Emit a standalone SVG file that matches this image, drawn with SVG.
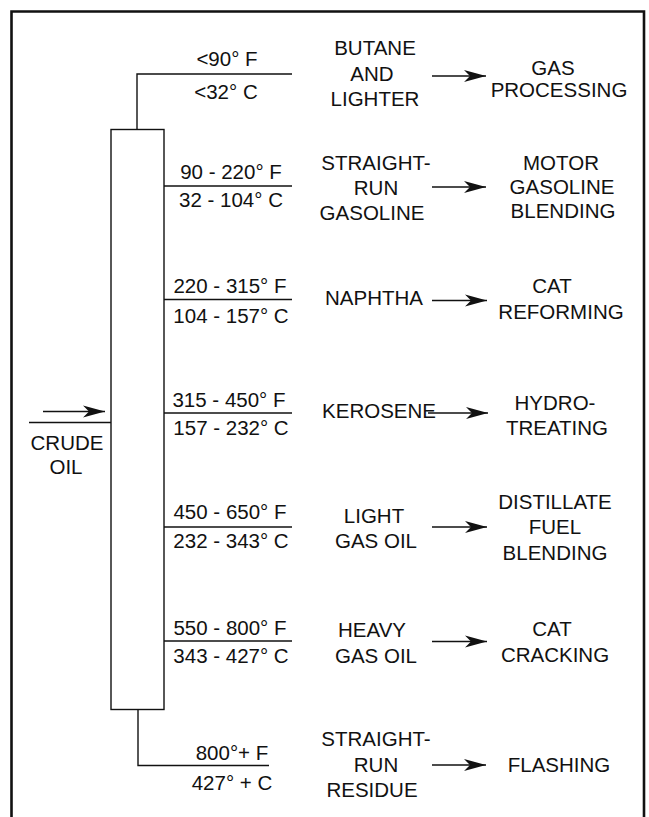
<svg xmlns="http://www.w3.org/2000/svg" width="649" height="817" viewBox="0 0 649 817">
<style>
text{font-family:"Liberation Sans",Arial,Helvetica,sans-serif;font-size:20.5px;fill:#111;text-anchor:middle}
.ln{fill:none;stroke:#111;stroke-width:1.4}
.ar{fill:none;stroke:#111;stroke-width:1.4;marker-end:url(#ah)}
</style>
<defs>
<marker id="ah" markerUnits="userSpaceOnUse" markerWidth="24" markerHeight="14" viewBox="-22 -7 24 14" refX="0" refY="0" orient="auto">
<path d="M0,0 L-22,-6 L-16,0 L-22,6 Z" fill="#111"/>
</marker>
</defs>
<rect width="649" height="817" fill="#fff"/>
<path d="M11.5,817 V11.5 H644 V817" fill="none" stroke="#111" stroke-width="2.6"/>
<g id="column"><rect x="111" y="129.5" width="53" height="580" class="ln" fill="#fff"/></g>
<g id="connectors">
<path class="ln" d="M137,129.5 V74 H292"/>
<path class="ln" d="M164,186 H292"/>
<path class="ln" d="M164,299.5 H292"/>
<path class="ln" d="M164,413 H292"/>
<path class="ln" d="M164,527 H292"/>
<path class="ln" d="M164,641 H292"/>
<path class="ln" d="M138,709.5 V765.5 H269"/>
<path class="ln" d="M29,422.5 H111"/>
<path class="ar" d="M43,411.5 H105"/>
<path class="ar" d="M432,76 H486"/>
<path class="ar" d="M432,187 H486"/>
<path class="ar" d="M432,300.5 H487"/>
<path class="ar" d="M428,413 H488"/>
<path class="ar" d="M432,527 H487"/>
<path class="ar" d="M432,641.5 H487"/>
<path class="ar" d="M432,765 H486"/>
</g>
<g id="crude"><text x="67" y="450">CRUDE</text><text x="66" y="474">OIL</text></g>
<g id="t1"><text x="227" y="66">&lt;90° F</text><text x="226" y="99">&lt;32° C</text></g>
<g id="t2"><text x="231" y="179">90 - 220° F</text><text x="231" y="207">32 - 104° C</text></g>
<g id="t3"><text x="230" y="293">220 - 315° F</text><text x="231" y="323">104 - 157° C</text></g>
<g id="t4"><text x="229" y="407">315 - 450° F</text><text x="231" y="435">157 - 232° C</text></g>
<g id="t5"><text x="230" y="519">450 - 650° F</text><text x="231" y="548">232 - 343° C</text></g>
<g id="t6"><text x="230" y="635">550 - 800° F</text><text x="231" y="663">343 - 427° C</text></g>
<g id="t7"><text x="232" y="760">800°+ F</text><text x="232" y="790">427° + C</text></g>
<g id="p1"><text x="375" y="55">BUTANE</text><text x="372" y="81">AND</text><text x="375" y="106">LIGHTER</text></g>
<g id="p2"><text x="376" y="170">STRAIGHT-</text><text x="376" y="195">RUN</text><text x="372" y="220">GASOLINE</text></g>
<g id="p3"><text x="374" y="305">NAPHTHA</text></g>
<g id="p4"><text x="379" y="418">KEROSENE</text></g>
<g id="p5"><text x="374" y="523">LIGHT</text><text x="376" y="548">GAS OIL</text></g>
<g id="p6"><text x="372" y="637">HEAVY</text><text x="376" y="663">GAS OIL</text></g>
<g id="p7"><text x="376" y="746">STRAIGHT-</text><text x="376" y="772">RUN</text><text x="372" y="797">RESIDUE</text></g>
<g id="d1"><text x="553" y="75">GAS</text><text x="559" y="97">PROCESSING</text></g>
<g id="d2"><text x="561" y="170">MOTOR</text><text x="562" y="194">GASOLINE</text><text x="563" y="218">BLENDING</text></g>
<g id="d3"><text x="552" y="293">CAT</text><text x="561" y="319">REFORMING</text></g>
<g id="d4"><text x="555" y="410">HYDRO-</text><text x="557" y="435">TREATING</text></g>
<g id="d5"><text x="555" y="509">DISTILLATE</text><text x="555" y="534">FUEL</text><text x="555" y="560">BLENDING</text></g>
<g id="d6"><text x="552" y="636">CAT</text><text x="555" y="662">CRACKING</text></g>
<g id="d7"><text x="559" y="772">FLASHING</text></g>
</svg>
